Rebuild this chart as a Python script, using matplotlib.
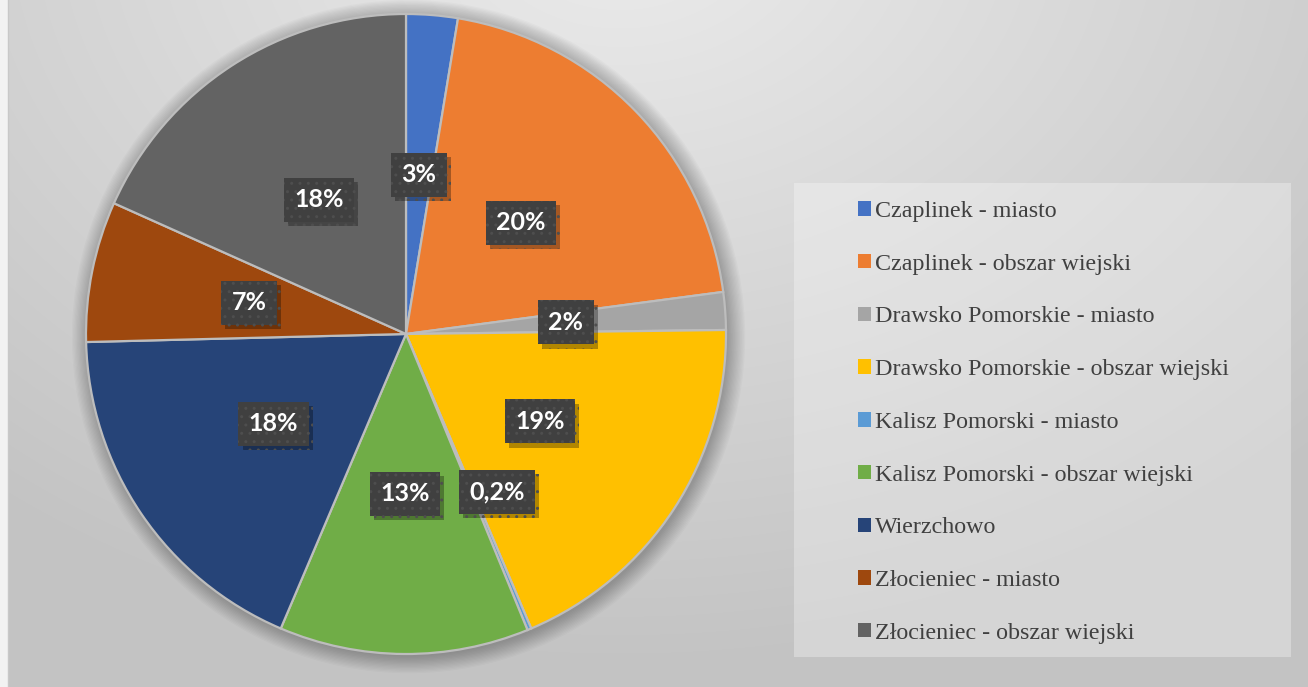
import matplotlib
matplotlib.use("Agg")
import matplotlib.pyplot as plt
import matplotlib.patheffects as pe
from matplotlib.patches import Rectangle, Circle
import numpy as np

labels = [
    "Czaplinek - miasto",
    "Czaplinek - obszar wiejski",
    "Drawsko Pomorskie - miasto",
    "Drawsko Pomorskie - obszar wiejski",
    "Kalisz Pomorski - miasto",
    "Kalisz Pomorski - obszar wiejski",
    "Wierzchowo",
    "Złocieniec - miasto",
    "Złocieniec - obszar wiejski",
]
shares = [2.6, 20.3, 1.9, 18.8, 0.2, 12.6, 18.2, 7.1, 18.3]
colors = ["#4472C4", "#ED7D31", "#A5A5A5", "#FFC000", "#5B9BD5",
          "#70AD47", "#264478", "#9E480E", "#636363"]

W, H = 1308, 687
fig = plt.figure(figsize=(W / 100, H / 100), dpi=100)

# background gradient
bg = fig.add_axes([0, 0, 1, 1])
yy, xx = np.mgrid[0:H, 0:W]
d = np.sqrt(((xx - 620) / 1.0) ** 2 + ((yy + 80) / 0.75) ** 2)
g = 0.925 - 0.16 * np.clip(d / 1000, 0, 1)
bg.imshow(np.dstack([g, g, g]), extent=[0, W, H, 0], aspect="auto")
bg.add_patch(Rectangle((0, 0), 8, H, color="#f2f2f2", lw=0))
bg.plot([8, 8], [0, H], color="#c8c8c8", lw=1)
# legend panel
bg.add_patch(Rectangle((794, 183), 497, 474, facecolor="white", alpha=0.3, lw=0))
bg.set_xlim(0, W)
bg.set_ylim(H, 0)
bg.axis("off")

# pie
cx, cy, r = 406, 334, 320
ax = fig.add_axes([(cx - r) / W, (H - cy - r) / H, 2 * r / W, 2 * r / H])
for k in range(14):
    ax.add_patch(Circle((0.008, -0.008), 1.0 + 0.004 * k, color="black",
                        alpha=0.018, lw=0, zorder=0, clip_on=False))

def fmt(p):
    if p < 1:
        return f"{p:.1f}%".replace(".", ",")
    return f"{p:.0f}%"

wedges, texts, autotexts = ax.pie(
    shares, colors=colors, startangle=90, counterclock=False, radius=1,
    autopct=fmt, pctdistance=0.5,
    wedgeprops=dict(edgecolor="#bdbdbd", linewidth=1.6),
    textprops=dict(color="white", fontsize=18, fontweight="bold",
                   family=["Lato", "DejaVu Sans"]),
)
ax.set_xlim(-1, 1)
ax.set_ylim(-1, 1)
ax.set_aspect("equal")
ax.axis("off")

# move the tiny slice label so it does not sit on the neighbour
autotexts[4].set_position((0.284, -0.494))

for t in autotexts:
    t.set_zorder(6)
    t.set_bbox(dict(boxstyle="square,pad=0.42", fc="#404040", ec="#4e4e4e",
                    lw=0, hatch=".."))
    t.get_bbox_patch().set_path_effects(
        [pe.SimplePatchShadow(offset=(3, -3), shadow_rgbFace="black", alpha=0.3),
         pe.Normal()])

leg = fig.legend(
    wedges, labels, loc="upper left",
    bbox_to_anchor=(858 / W, 1 - 201 / H), bbox_transform=fig.transFigure,
    frameon=False, borderpad=0, borderaxespad=0,
    handlelength=0.55, handleheight=0.55, handletextpad=0.15,
    labelspacing=1.32,
    prop=dict(family="Liberation Serif", size=17.3),
    labelcolor="#404040",
)
for h in leg.legend_handles:
    h.set_edgecolor("none")

fig.savefig("out.png", dpi=100)
